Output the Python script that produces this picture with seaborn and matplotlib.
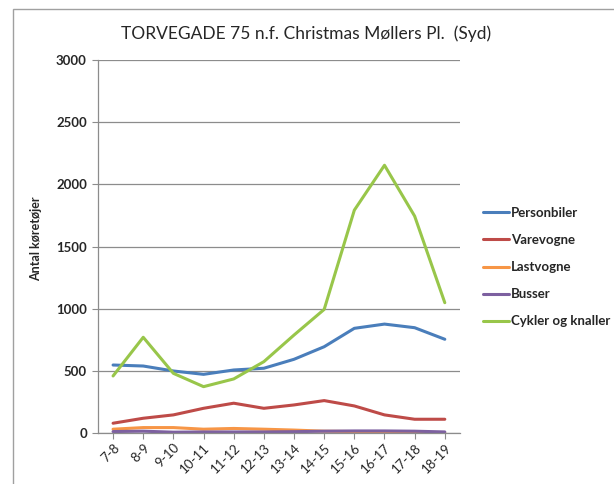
import matplotlib
matplotlib.use("Agg")
import matplotlib.pyplot as plt
from matplotlib.patches import Rectangle
import seaborn as sns
import pandas as pd

hours = ["7-8", "8-9", "9-10", "10-11", "11-12", "12-13", "13-14",
         "14-15", "15-16", "16-17", "17-18", "18-19"]
personbiler = [548, 540, 500, 473, 508, 522, 594, 695, 843, 877, 848, 755]
varevogne = [80, 120, 147, 200, 241, 200, 227, 262, 219, 147, 112, 112]
lastvogne = [32, 45, 45, 32, 38, 32, 25, 16, 13, 10, 2, 2]
busser = [13, 16, 8, 10, 10, 10, 12, 16, 18, 18, 16, 10]
cykler = [460, 771, 481, 374, 436, 575, 789, 995, 1793, 2154, 1745, 1049]

series = {
    "Personbiler": personbiler,
    "Varevogne": varevogne,
    "Lastvogne": lastvogne,
    "Busser": busser,
    "Cykler og knaller": cykler,
}
colors = ["#4A7EBB", "#BE4B48", "#F79646", "#7D60A0", "#98C64A"]

rows = []
for name, vals in series.items():
    for i, v in enumerate(vals):
        rows.append({"idx": i, "Antal": v, "Type": name})
df = pd.DataFrame(rows)

sns.set_style("white")
plt.rcParams["font.family"] = ["Lato", "DejaVu Sans"]

fig = plt.figure(figsize=(6.14, 4.84), dpi=100)
ax = fig.add_axes([0.1596, 0.105, 0.5894, 0.771])

# frame around the chart area
fig.patches.append(Rectangle((13 / 614, -0.1), 1.2, 1.1 - 9 / 484,
                             transform=fig.transFigure, fill=False,
                             edgecolor="#a0a0a0", linewidth=1.0))

sns.lineplot(data=df, x="idx", y="Antal", hue="Type", palette=colors,
             linewidth=2.2, ax=ax, legend=True)

ax.set_xlim(-0.5, len(hours) - 0.5)
ax.set_ylim(0, 3000)
ax.set_yticks(range(0, 3001, 500))
ax.set_yticklabels([str(v) for v in range(0, 3001, 500)],
                   fontsize=9.5, fontweight="bold")
ax.set_xticks(range(len(hours)))
ax.set_xticklabels(hours, rotation=45, ha="right", rotation_mode="anchor",
                   fontsize=9.5)
ax.set_xlabel("")
ax.set_ylabel("Antal køretøjer", fontsize=9, fontweight="bold", labelpad=5)
ax.yaxis.set_label_coords(-0.155, 0.52)
ax.set_title("TORVEGADE 75 n.f. Christmas Møllers Pl.  (Syd)",
             fontsize=12.5, pad=15, x=0.576)

ax.grid(axis="y", color="#8c8c8c", linewidth=0.9)
ax.set_axisbelow(True)
for s in ["top", "right"]:
    ax.spines[s].set_visible(False)
for s in ["left", "bottom"]:
    ax.spines[s].set_color("#8c8c8c")
    ax.spines[s].set_linewidth(0.9)
ax.tick_params(axis="y", length=4, color="#8c8c8c", pad=4)
ax.tick_params(axis="x", length=4, color="#8c8c8c", pad=2, direction="out")
ax.tick_params(axis="both", which="both", left=True, bottom=True)

leg = ax.legend(loc="center left", bbox_to_anchor=(1.03, 0.445),
                frameon=False, handlelength=2.0,
                handletextpad=0.15, labelspacing=1.15,
                prop={"size": 9.5, "weight": "bold"})
for h in leg.get_lines():
    h.set_linewidth(2.2)

fig.savefig("out.png", dpi=100, facecolor="white")
